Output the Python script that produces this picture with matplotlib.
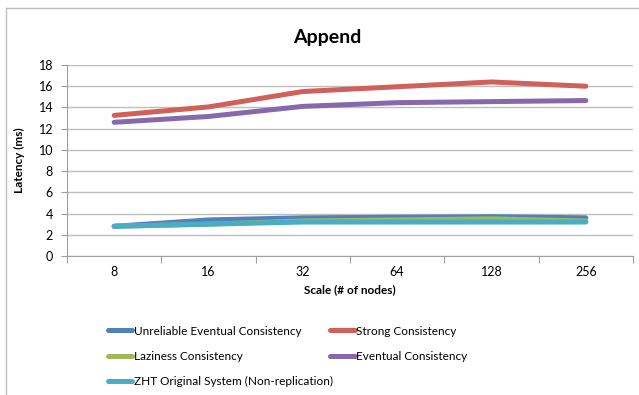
import matplotlib
matplotlib.use("Agg")
import matplotlib.pyplot as plt
from matplotlib.lines import Line2D

plt.rcParams['font.family'] = ['Lato', 'DejaVu Sans']

# Data
scales = ["8", "16", "32", "64", "128", "256"]
unreliable = [2.8, 3.4, 3.6, 3.65, 3.7, 3.6]
strong = [13.25, 14.05, 15.5, 15.95, 16.4, 16.0]
laziness = [2.8, 3.0, 3.3, 3.4, 3.5, 3.3]
eventual = [12.6, 13.15, 14.1, 14.45, 14.55, 14.65]
zht = [2.8, 3.0, 3.2, 3.2, 3.2, 3.2]

series = [
    ("Unreliable Eventual Consistency", unreliable, "#4F81BD"),
    ("Strong Consistency", strong, "#D0605A"),
    ("Laziness Consistency", laziness, "#9BBB59"),
    ("Eventual Consistency", eventual, "#8668AC"),
    ("ZHT Original System (Non-replication)", zht, "#4BACC6"),
]

W, H = 639, 395
fig = plt.figure(figsize=(W / 100, H / 100), dpi=100)
ax = fig.add_axes([67 / W, (H - 256) / H, (633 - 67) / W, (256 - 65) / H])

x = list(range(len(scales)))
lines = {}
for name, vals, color in series:
    ln, = ax.plot(x, vals, color=color, lw=3.6, solid_capstyle="round",
                  solid_joinstyle="round", label=name)
    lines[name] = ln

ax.set_ylim(0, 18)
ax.set_yticks(range(0, 19, 2))
ax.set_xlim(-0.5, len(scales) - 0.5)
ax.set_xticks([i - 0.5 for i in range(len(scales) + 1)])
ax.set_xticklabels([])
ax.set_xticks(x, minor=True)
ax.set_xticklabels(scales, minor=True)
ax.tick_params(axis="x", which="major", length=5, color="#A0A0A0", direction="out")
ax.tick_params(axis="x", which="minor", length=0, pad=7, labelsize=9)
ax.tick_params(axis="y", length=4, color="#A0A0A0", labelsize=9, pad=6)
ax.grid(axis="y", color="#BEBEBE", lw=1)
ax.set_axisbelow(True)
for s in ["top", "right"]:
    ax.spines[s].set_visible(False)
for s in ["left", "bottom"]:
    ax.spines[s].set_color("#A0A0A0")

ax.set_ylabel("Latency (ms)", fontsize=8.5, fontweight="bold", labelpad=10)
ax.set_xlabel("Scale (# of nodes)", fontsize=8.5, fontweight="bold", labelpad=5)
fig.text(327 / W, 1 - 37 / H, "Append", ha="center", va="center",
         fontsize=14, fontweight="bold")

order = ["Unreliable Eventual Consistency", "Laziness Consistency",
         "ZHT Original System (Non-replication)", "Strong Consistency",
         "Eventual Consistency"]
fig.legend([lines[n] for n in order], order, ncol=2, frameon=False,
           loc="upper left", bbox_to_anchor=(97 / W, 1 - 315 / H),
           fontsize=8.5, handlelength=2.1, handletextpad=0.1,
           columnspacing=-0.2, labelspacing=1.2)

# chart border (left and top edges)
fig.add_artist(Line2D([6 / W, 6 / W], [0, 1 - 8 / H], transform=fig.transFigure,
                      color="#BDBDBD", lw=1))
fig.add_artist(Line2D([6 / W, 1], [1 - 8 / H, 1 - 8 / H], transform=fig.transFigure,
                      color="#BDBDBD", lw=1))

fig.savefig("out.png", dpi=100)
